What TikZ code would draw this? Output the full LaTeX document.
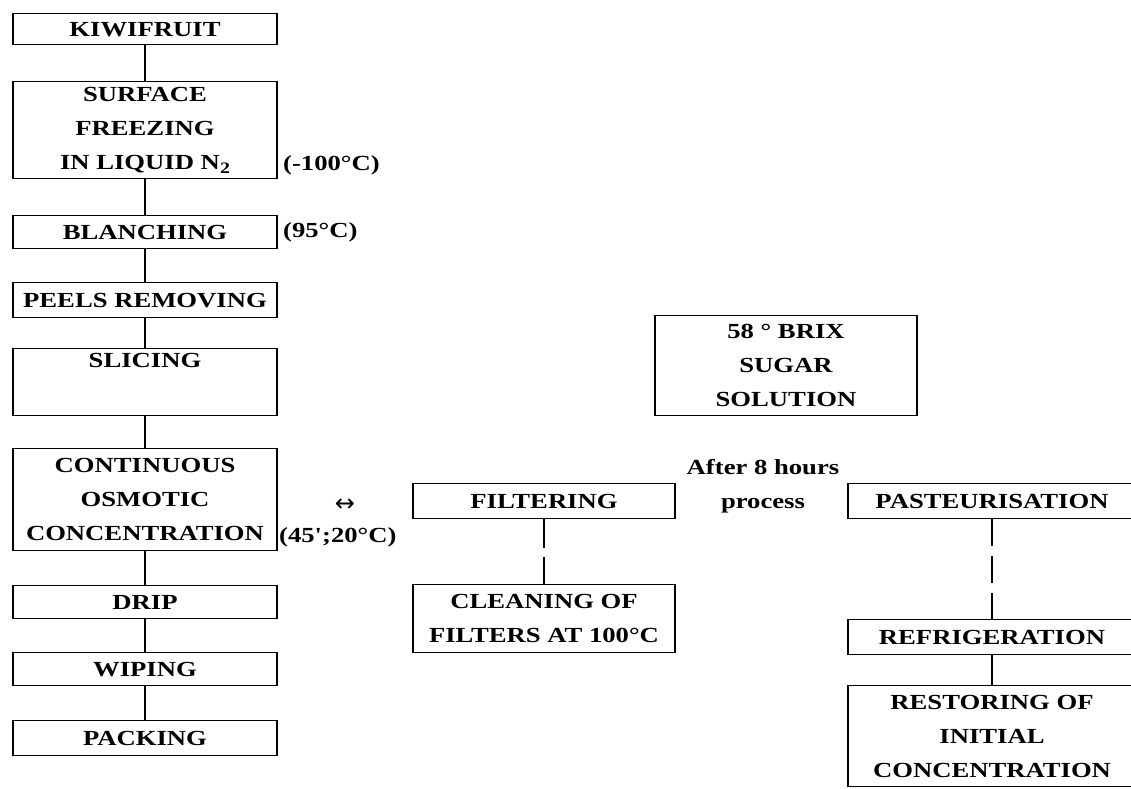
\documentclass[tikz,border=0pt]{standalone}
\usepackage{fontspec}
\newfontfamily\reffont{Liberation Serif}[FakeStretch=1.24]
\newfontfamily\symfont{DejaVu Sans}
\newcommand{\subtwo}{\raisebox{-0.35ex}{\fontsize{16}{16}\selectfont 2}}
\begin{document}
\begin{tikzpicture}[x=1pt,y=-1pt,
  txt/.style={font=\reffont\bfseries\fontsize{21.5}{34}\selectfont},
  box/.style={txt, draw, line width=1.4pt, inner sep=0pt, align=center, anchor=north},
  lbl/.style={txt, inner sep=0pt, align=center},
  link/.style={line width=1.3pt},
  dlinkA/.style={line width=1.3pt, dash pattern=on 28.5pt off 9pt},
  dlinkB/.style={line width=1.3pt, dash pattern=on 27pt off 10pt}]
\clip (0,0) rectangle (1131,788);
% left column
\node[box, minimum width=264pt, minimum height=31pt] (kiwi) at (145,13) {KIWIFRUIT};
\node[box, minimum width=264pt, minimum height=97pt] (surf) at (145,81) {SURFACE\\FREEZING\\IN LIQUID N\subtwo};
\node[box, minimum width=264pt, minimum height=33pt] (blanch) at (145,215) {BLANCHING};
\node[box, minimum width=264pt, minimum height=35pt] (peels) at (145,282) {PEELS REMOVING};
\node[box, minimum width=264pt, minimum height=67pt] (slice) at (145,348) {SLICING\\\strut};
\node[box, minimum width=264pt, minimum height=102pt] (cont) at (145,448) {CONTINUOUS\\OSMOTIC\\CONCENTRATION};
\node[box, minimum width=264pt, minimum height=33pt] (drip) at (145,585) {DRIP};
\node[box, minimum width=264pt, minimum height=33pt] (wipe) at (145,652) {WIPING};
\node[box, minimum width=264pt, minimum height=35pt] (pack) at (145,720) {PACKING};
% side labels
\node[lbl, anchor=west] (t100) at (283,165) {(-100°C)};
\node[lbl, anchor=west] (t95) at (283,232) {(95°C)};
\node[inner sep=0pt, font=\symfont\fontsize{24}{24}\selectfont] (arr) at (345,505) {↔};
\node[lbl, anchor=west] (t45) at (279,537) {(45';20°C)};
% middle
\node[box, minimum width=262pt, minimum height=35pt] (filt) at (544,483) {FILTERING};
\node[box, minimum width=262pt, minimum height=68pt] (clean) at (544,584) {CLEANING OF\\FILTERS AT 100°C};
\node[box, minimum width=262pt, minimum height=100pt] (sugar) at (786,315) {58 ° BRIX\\SUGAR\\SOLUTION};
\node[lbl] (after) at (763,486) {After 8 hours\\process};
% right column
\node[box, minimum width=288pt, minimum height=35pt] (past) at (992,483) {PASTEURISATION};
\node[box, minimum width=288pt, minimum height=35pt] (refr) at (992,619) {REFRIGERATION};
\node[box, minimum width=288pt, minimum height=101pt] (rest) at (992,685) {RESTORING OF\\INITIAL\\CONCENTRATION};
% connectors
\draw[link] (kiwi) -- (surf);
\draw[link] (surf) -- (blanch);
\draw[link] (blanch) -- (peels);
\draw[link] (peels) -- (slice);
\draw[link] (slice) -- (cont);
\draw[link] (cont) -- (drip);
\draw[link] (drip) -- (wipe);
\draw[link] (wipe) -- (pack);
\draw[dlinkA] (filt) -- (clean);
\draw[dlinkB] (past) -- (refr);
\draw[link] (refr) -- (rest);
\end{tikzpicture}
\end{document}
